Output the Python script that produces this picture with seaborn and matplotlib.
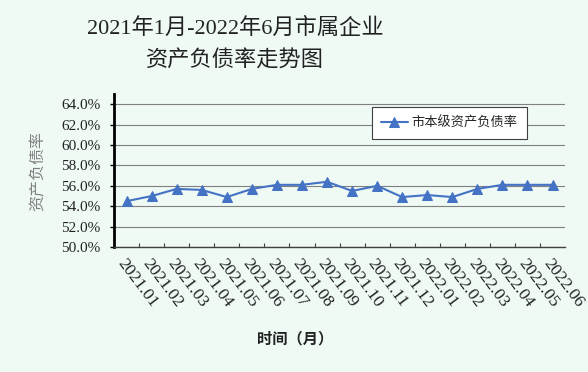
import matplotlib
matplotlib.use("Agg")
import matplotlib.pyplot as plt
import seaborn as sns
import pandas as pd

# data
months = ["2021.01", "2021.02", "2021.03", "2021.04", "2021.05", "2021.06",
          "2021.07", "2021.08", "2021.09", "2021.10", "2021.11", "2021.12",
          "2022.01", "2022.02", "2022.03", "2022.04", "2022.05", "2022.06"]
ratio = [54.5, 55.0, 55.7, 55.6, 54.9, 55.7, 56.1, 56.1, 56.4, 55.5, 56.0, 54.9,
         55.1, 54.9, 55.7, 56.1, 56.1, 56.1]
yticks = [50, 52, 54, 56, 58, 60, 62, 64]
series_name = "市本级资产负债率"

sns.set_theme(style="white")
plt.rcParams['font.family'] = ['Liberation Serif', 'Noto Sans CJK SC']
plt.rcParams['axes.unicode_minus'] = False

bg = '#EFFAF4'
blue = '#4472C4'
cjk = ['Noto Sans CJK SC', 'DejaVu Sans']

fig = plt.figure(figsize=(5.88, 3.72), dpi=100, facecolor=bg)
ax = fig.add_axes([0.194, 0.336, 0.767, 0.411])
ax.set_facecolor(bg)

df = pd.DataFrame({'x': range(len(months)), 'ratio': ratio})
sns.lineplot(data=df, x='x', y='ratio', ax=ax, color=blue, marker='^',
             markersize=7, markeredgecolor=blue, linewidth=1.5, label=series_name)

# axes styling
ax.set_xlim(-0.5, len(months) - 0.5)
ax.set_ylim(50, 65)
ax.set_yticks(yticks)
ax.set_yticklabels([f"{v:.1f}%" for v in yticks], fontsize=11, color='#222222')
ax.yaxis.grid(True, color='#808080', linewidth=0.8)
ax.tick_params(axis='y', direction='out', length=3, width=1, color='black', pad=7, left=True)

ax.set_xticks(range(len(months)))
ax.set_xticklabels(months, rotation=-53, ha='left', va='top', rotation_mode='anchor',
                   fontsize=12.5, color='#222222')
ax.set_xticks([i + 0.5 for i in range(len(months) - 1)], minor=True)
ax.tick_params(axis='x', which='major', length=0, pad=6)
ax.tick_params(axis='x', which='minor', direction='in', length=3, width=0.8,
               color='#404040', bottom=True)

for side in ['top', 'right']:
    ax.spines[side].set_visible(False)
ax.spines['left'].set_linewidth(2)
ax.spines['left'].set_color('black')
ax.spines['bottom'].set_linewidth(1)
ax.spines['bottom'].set_color('#404040')
ax.set_xlabel('')
ax.set_ylabel('')

leg = ax.legend(loc='upper left', bbox_to_anchor=(0.572, 0.915), frameon=True,
                fancybox=False, edgecolor='#404040', facecolor='white', framealpha=1,
                prop={'family': cjk, 'size': 9.5}, handlelength=2.0,
                handletextpad=0.3, borderpad=0.7, borderaxespad=0)
leg.get_frame().set_linewidth(0.8)

# titles and axis labels
fig.text(0.40, 0.925, "2021年1月-2022年6月市属企业", ha='center', va='center',
         fontsize=16, color='#222222')
fig.text(0.40, 0.839, "资产负债率走势图", ha='center', va='center',
         fontsize=16, color='#222222', family=cjk)
fig.text(0.065, 0.54, "资产负债率", rotation=90, ha='center', va='center',
         fontsize=11.5, color='#808080', family=cjk)
fig.text(0.502, 0.091, "时间（月）", ha='center', va='center',
         fontsize=11, fontweight='bold', color='#222222', family=cjk)

fig.savefig('out.png', dpi=100, facecolor=bg)
